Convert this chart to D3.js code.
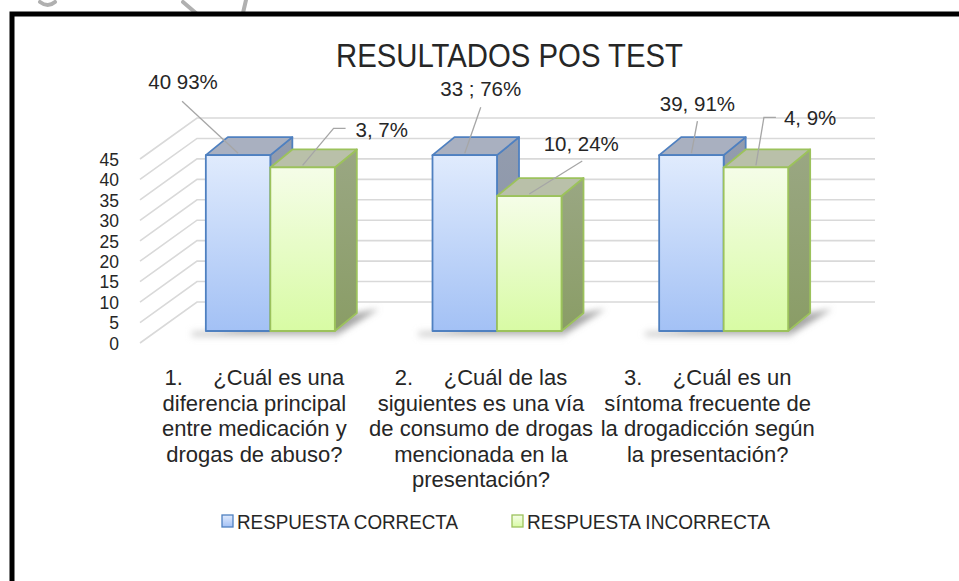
<!DOCTYPE html>
<html>
<head>
<meta charset="utf-8">
<script src="https://cdn.jsdelivr.net/npm/d3@7"></script>
<style>
  body { margin: 0; background: #fff; }
  svg { display: block; }
  .lbl { font-family: "Liberation Sans", Arial, sans-serif; fill: #262626; }
</style>
</head>
<body>
<script>
// data
const categories = ["p1", "p2", "p3"];
const categoryLines = [
    ["1.     ¿Cuál es una", "diferencia principal", "entre medicación y", "drogas de abuso?"],
    ["2.     ¿Cuál de las", "siguientes es una vía", "de consumo de drogas", "mencionada en la", "presentación?"],
    ["3.     ¿Cuál es un", "síntoma frecuente de", "la drogadicción según", "la presentación?"]
];
const series = ["RESPUESTA CORRECTA", "RESPUESTA INCORRECTA"];
const correctValues = [43, 43, 43];
const incorrectValues = [40, 33, 40];
const correctLabels = ["40 93%", "33 ; 76%", "39, 91%"];
const incorrectLabels = ["3, 7%", "10, 24%", "4, 9%"];
const yTicks = [0, 5, 10, 15, 20, 25, 30, 35, 40, 45];

// label placement, relative to the top-front centre of each bar
const labelLayout = [
    [{ tx: -55, ty: -64, anchor: "middle", pts: [[-56, -52]] }, { tx: 53, ty: -28, anchor: "start", pts: [[43, -37], [31, -37]] }],
    [{ tx: 16, ty: -57, anchor: "middle", pts: [[16, -46]] }, { tx: 52, ty: -43, anchor: "middle", pts: [[53, -33]] }],
    [{ tx: 6, ty: -42, anchor: "middle", pts: [[6, -32]] }, { tx: 28, ty: -40, anchor: "start", pts: [[20, -48], [8, -48]] }]
];

const W = 959, H = 581;
const svg = d3.select("body").append("svg").attr("width", W).attr("height", H);
const defs = svg.append("defs");

function vgrad(id, top, bottom) {
    const g = defs.append("linearGradient").attr("id", id)
        .attr("x1", 0).attr("y1", 0).attr("x2", 0).attr("y2", 1);
    g.append("stop").attr("offset", "0%").attr("stop-color", top);
    g.append("stop").attr("offset", "100%").attr("stop-color", bottom);
}
vgrad("blueFront", "#e0ebfd", "#a3c1f5");
vgrad("greenFront", "#f5fde8", "#d8fba4");
vgrad("blueSide", "#939cae", "#8893a6");
vgrad("greenSide", "#9aa783", "#8a9d66");
defs.append("filter").attr("id", "blur").attr("x", "-20%").attr("y", "-50%").attr("width", "140%").attr("height", "200%")
    .append("feGaussianBlur").attr("stdDeviation", 3);

const style = [
    { front: "url(#blueFront)", top: "#a9b0c0", side: "url(#blueSide)", stroke: "#4f80c0" },
    { front: "url(#greenFront)", top: "#b9c0a9", side: "url(#greenSide)", stroke: "#9cc25c" }
];

// scales
const y = d3.scaleLinear().domain([0, 45]).range([343, 159]);
const x0 = d3.scaleBand().domain(categories).range([157, 837]);
const x1 = d3.scaleBand().domain(series).range([-64.5, 64.5]);
const cx = c => x0(c) + x0.bandwidth() / 2;

const frontX = 140, wallDx = 57, wallDy = 41, wallEnd = 875;
const barLift = 12;          // bars sit a bit behind the front plane
const depthDx = 22, depthDy = 18;
const yb = v => y(v) - barLift;

// faint marks at the top edge (scan artefacts)
svg.append("g").attr("stroke", "#b0b0b0").attr("stroke-width", 4).attr("fill", "none").attr("stroke-linecap", "round")
    .selectAll("path")
    .data(["M183,2L197,14", "M246,0L243,13", "M40,2Q48,8 55,2"])
    .join("path").attr("d", d => d);

// gridlines (side wall + back wall)
const grid = svg.append("g").attr("stroke", "#d9d9d9").attr("stroke-width", 1.6).attr("fill", "none");
yTicks.forEach(v => {
    grid.append("path")
        .attr("d", `M${frontX},${y(v)}L${frontX + wallDx},${y(v) - wallDy}H${wallEnd}`);
});

// y axis labels
const yAxis = svg.append("g")
    .attr("transform", "translate(119,0)")
    .call(d3.axisLeft(y).tickValues(yTicks).tickSize(0).tickPadding(0));
yAxis.select(".domain").remove();
yAxis.selectAll("text")
    .attr("class", "lbl")
    .attr("font-family", null).attr("font-size", null)
    .style("font-size", "17.5px").attr("dy", "0.36em");

// data
const rows = categories.map((c, i) => ({
    cat: c, i,
    bars: [
        { s: series[0], k: 0, v: correctValues[i], label: correctLabels[i] },
        { s: series[1], k: 1, v: incorrectValues[i], label: incorrectLabels[i] }
    ]
}));

// shadows
const shadows = svg.append("g").attr("filter", "url(#blur)");
rows.forEach(r => {
    const l = cx(r.cat) + x1(series[0]), rr = cx(r.cat) + x1(series[1]) + x1.bandwidth();
    const b = yb(0);
    shadows.append("path")
        .attr("d", `M${l - 10},${b + 3}L${rr + 4},${b + 3}L${rr + depthDx + 22},${b - depthDy - 4}L${rr + depthDx},${b - depthDy}Z`)
        .attr("fill", "#8a8a8a").attr("opacity", 0.75);
    shadows.append("rect")
        .attr("x", l - 14).attr("y", b).attr("width", rr - l + 18).attr("height", 6)
        .attr("fill", "#c8c8c8").attr("opacity", 0.7);
});

// bars
const barG = svg.append("g").attr("stroke-linejoin", "round");
rows.forEach(r => {
    r.bars.forEach(d => {
        const x = cx(r.cat) + x1(d.s), w = x1.bandwidth();
        const t = yb(d.v), b = yb(0);
        const st = style[d.k];
        const g = barG.append("g").attr("stroke", st.stroke).attr("stroke-width", 1.8);
        g.append("path") // side
            .attr("d", `M${x + w},${t}L${x + w + depthDx},${t - depthDy}L${x + w + depthDx},${b - depthDy}L${x + w},${b}Z`)
            .attr("fill", st.side);
        g.append("path") // top
            .attr("d", `M${x},${t}L${x + depthDx},${t - depthDy}L${x + w + depthDx},${t - depthDy}L${x + w},${t}Z`)
            .attr("fill", st.top);
        g.append("rect") // front
            .attr("x", x).attr("y", t).attr("width", w).attr("height", b - t)
            .attr("fill", st.front);
    });
});

// data labels with leader lines
const labG = svg.append("g");
rows.forEach(r => {
    r.bars.forEach(d => {
        const ax = cx(r.cat) + x1(d.s) + x1.bandwidth() / 2;
        const ay = yb(d.v) - 2;
        const lay = labelLayout[r.i][d.k];
        const pts = lay.pts.map(p => [ax + p[0], ay + p[1]]).concat([[ax, ay]]);
        labG.append("path")
            .attr("d", d3.line()(pts))
            .attr("fill", "none").attr("stroke", "#a6a6a6").attr("stroke-width", 1.3);
        labG.append("text")
            .attr("class", "lbl")
            .attr("x", ax + lay.tx).attr("y", ay + lay.ty)
            .attr("text-anchor", lay.anchor)
            .style("font-size", "20.5px")
            .text(d.label);
    });
});

// category labels
const catG = svg.append("g");
rows.forEach(r => {
    const t = catG.append("text")
        .attr("class", "lbl")
        .attr("text-anchor", "middle")
        .style("font-size", "22px")
        .style("white-space", "pre");
    categoryLines[r.i].forEach((line, j) => {
        t.append("tspan")
            .attr("x", cx(r.cat) - 16)
            .attr("y", 385 + j * 25.5)
            .text(line);
    });
});

// title
svg.append("text")
    .attr("class", "lbl")
    .attr("x", 336).attr("y", 67)
    .attr("textLength", 347).attr("lengthAdjust", "spacingAndGlyphs")
    .style("font-size", "33.5px")
    .text("RESULTADOS POS TEST");

// legend
const legendX = [222, 512];
const legendW = [221, 243];
const legend = svg.append("g");
series.forEach((s, k) => {
    const g = legend.append("g").attr("transform", `translate(${legendX[k]},515)`);
    g.append("rect").attr("width", 11).attr("height", 12)
        .attr("fill", style[k].front).attr("stroke", style[k].stroke).attr("stroke-width", 1.3);
    g.append("text")
        .attr("class", "lbl")
        .attr("x", 15).attr("y", 14)
        .attr("textLength", legendW[k]).attr("lengthAdjust", "spacingAndGlyphs")
        .style("font-size", "20px")
        .text(s);
});

// frame
svg.append("rect")
    .attr("x", 12).attr("y", 14).attr("width", W + 20).attr("height", H + 20)
    .attr("fill", "none").attr("stroke", "#000").attr("stroke-width", 5);
</script>
</body>
</html>
